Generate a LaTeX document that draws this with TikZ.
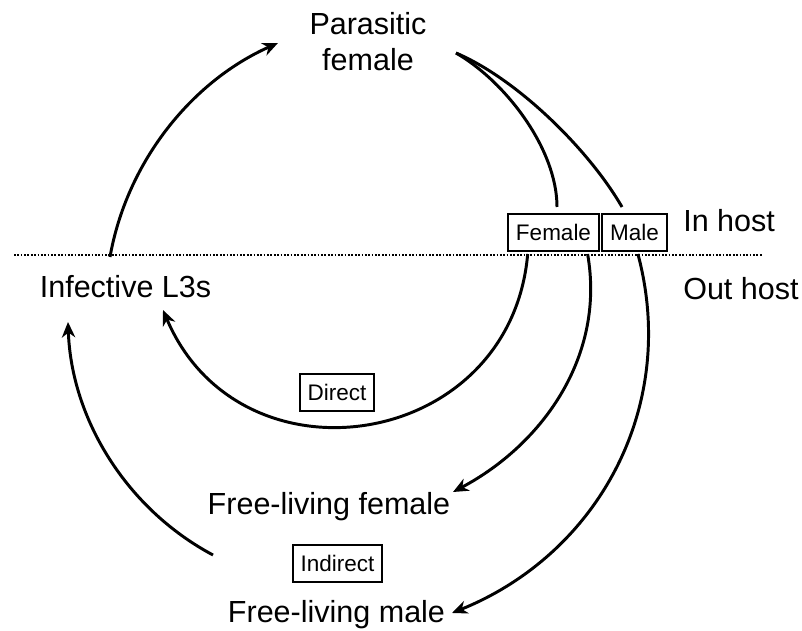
\documentclass[tikz,border=0pt]{standalone}
\usepackage{fontspec}
\setmainfont{Liberation Sans}
\usetikzlibrary{arrows.meta}

\begin{document}
\begin{tikzpicture}[
    x=0.025cm, y=0.025cm,
    stage/.style={inner sep=0pt, anchor=base,
        font=\fontsize{21.7}{25.6}\selectfont},
    tag/.style={draw=black, line width=1.4pt, inner xsep=5.5pt, inner ysep=0pt,
        minimum height=26.3pt, font=\fontsize{16}{19}\selectfont},
    flow/.style={line width=2.1pt, -{Stealth[length=11pt, width=9.5pt, inset=3.5pt]}},
    split/.style={line width=2.1pt, -},
    hostline/.style={line width=1.2pt, dash pattern=on 1.2pt off 1.2pt}
]
    \useasboundingbox (0,0) rectangle (802,631);

    \node[stage, align=center] (par) at (368,560) {Parasitic\\female};
    \node[stage] (l3) at (125.5,333) {Infective L3s};
    \node[stage] (ff) at (329,116) {Free-living female};
    \node[stage] (fm) at (336.5,9) {Free-living male};
    \node[stage, anchor=base west] (inh) at (683,399) {In host};
    \node[stage, anchor=base west] (outh) at (683,331) {Out host};

    \node[tag] (fem) at (553.5,398.5) {Female};
    \node[tag] (male) at (634.5,398.5) {Male};
    \node[tag] (dir) at (337,238.5) {Direct};
    \node[tag] (ind) at (337.5,67.5) {Indirect};

    \coordinate (hl) at (14,376);
    \coordinate (hr) at (763,376);
    \draw[hostline] (hl) -- (hr);

    \coordinate (l3up) at (110,374);
    \coordinate (parin) at (278,588);
    \coordinate (parout) at (456,578);
    \coordinate (femin) at (557,424);
    \coordinate (malein) at (622,424);
    \coordinate (femdir) at (527.7,377);
    \coordinate (l3dir) at (163,321);
    \coordinate (femfree) at (587.6,377);
    \coordinate (ffin) at (453,139);
    \coordinate (maleout) at (637.9,377);
    \coordinate (fmin) at (452,18);
    \coordinate (indout) at (213,76);
    \coordinate (l3ind) at (68,309);

    \draw[flow] (l3up) to[out=80, in=204, looseness=0.9] (parin);
    \draw[split] (parout) to[out=-30, in=90, looseness=0.8] (femin);
    \draw[split] (parout) to[out=-23, in=120, looseness=0.75] (malein);
    \draw[flow] (femdir) to[out=265, in=-67, looseness=1.37] (l3dir);
    \draw[flow] (femfree) to[out=280, in=28, looseness=0.96] (ffin);
    \draw[flow] (maleout) to[out=-75, in=22, looseness=1.0] (fmin);
    \draw[flow] (indout) to[out=152, in=-88, looseness=0.91] (l3ind);
\end{tikzpicture}
\end{document}
